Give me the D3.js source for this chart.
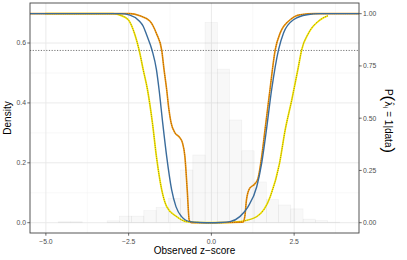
<!DOCTYPE html>
<html>
<head>
<meta charset="utf-8">
<script src="https://cdn.jsdelivr.net/npm/d3@7"></script>
<style>
  body { margin: 0; background: #fff; }
  svg { display: block; font-family: "Liberation Sans", Arial, sans-serif; }
</style>
</head>
<body>
<svg id="chart" width="407" height="260"></svg>
<script>
// histogram of observed z-scores (density scale), bin width 0.37
const binLeft = [-4.63, -4.26, -3.89, -3.52, -3.15, -2.78, -2.41, -2.04, -1.67, -1.30, -0.93, -0.56,
                 -0.19, 0.18, 0.55, 0.92, 1.29, 1.66, 2.03, 2.40, 2.77, 3.14, 3.51];
const binDensity = [0.003, 0.003, 0, 0, 0.006, 0.022, 0.022, 0.04, 0.051, 0.081, 0.176, 0.226,
                    0.669, 0.513, 0.343, 0.24, 0.136, 0.078, 0.059, 0.046, 0.012, 0.007, 0.002];
const binWidth = 0.37;

// posterior probability curves P(lambda_i = 1 | data)
const zYellow = [-5.03, -2.97, -2.76, -2.51, -2.31, -2.18, -2.06, -1.93, -1.78, -1.66, -1.5, -1.35, -1.05, -0.75, -0.35, 0,
                 0.56, 0.86, 1.37, 1.78, 2.06, 2.23, 2.43, 2.63, 2.73, 2.94, 3.29, 3.52];
const pYellow = [1, 1, 0.993, 0.971, 0.899, 0.824, 0.732, 0.636, 0.476, 0.316, 0.157, 0.077, 0.029, 0.005, 0.001, 0,
                 0.001, 0.005, 0.029, 0.125, 0.285, 0.444, 0.588, 0.747, 0.828, 0.908, 0.971, 0.99];

const zOrange = [-5.48, -2.46, -2.16, -1.86, -1.66, -1.5, -1.43, -1.35, -1.29, -1.22, -1.1, -0.97, -0.87, -0.8, -0.73, -0.67, -0.6, 0,
                 0.95, 1.01, 1.06, 1.16, 1.31, 1.41, 1.52, 1.62, 1.72, 1.77, 1.93, 2.08, 2.38, 2.68, 3.13, 4.46];
const pOrange = [1, 1, 0.99, 0.965, 0.905, 0.824, 0.732, 0.636, 0.55, 0.48, 0.43, 0.41, 0.38, 0.316, 0.157, 0.013, 0, 0,
                 0.002, 0.029, 0.109, 0.165, 0.185, 0.213, 0.316, 0.444, 0.572, 0.636, 0.828, 0.908, 0.971, 0.995, 1, 1];

const zBlue = [-5.48, -2.76, -2.46, -2.18, -2.06, -1.96, -1.79, -1.66, -1.58, -1.47, -1.35, -1.2, -1.07, -0.9, -0.65, -0.35, 0,
               0.26, 0.56, 0.86, 1.11, 1.37, 1.52, 1.65, 1.82, 2.03, 2.18, 2.48, 2.89, 3.28, 4.46];
const pBlue = [1, 1, 0.993, 0.965, 0.94, 0.9, 0.824, 0.732, 0.636, 0.476, 0.316, 0.157, 0.077, 0.029, 0.005, 0.001, 0,
               0.001, 0.005, 0.029, 0.077, 0.172, 0.285, 0.428, 0.636, 0.828, 0.908, 0.971, 0.995, 1, 1];

const threshold = 0.824;   // dotted reference probability
const maxDensity = 0.698;  // density that corresponds to probability 1

const xTicks = [-5, -2.5, 0, 2.5];
const xMinor = [-3.75, -1.25, 1.25, 3.75];
const yTicks = [0, 0.2, 0.4, 0.6];
const yMinor = [0.1, 0.3, 0.5];
const pTicks = [0, 0.25, 0.5, 0.75, 1];

const svg = d3.select("#chart");
const L = 30, R = 359, T = 3, B = 233;

const x = d3.scaleLinear().domain([-5.48, 4.46]).range([L, R]);
const y = d3.scaleLinear().domain([-0.0344, 0.7336]).range([B, T]);
const yp = d3.scaleLinear().domain([-0.0344 / maxDensity, 0.7336 / maxDensity]).range([B, T]);

// grid
const grid = svg.append("g");
grid.selectAll(".vminor").data(xMinor).enter().append("line")
  .attr("x1", d => x(d)).attr("x2", d => x(d)).attr("y1", T).attr("y2", B)
  .attr("stroke", "#f0f0f0").attr("stroke-width", 0.5);
grid.selectAll(".hminor").data(yMinor).enter().append("line")
  .attr("x1", L).attr("x2", R).attr("y1", d => y(d)).attr("y2", d => y(d))
  .attr("stroke", "#f0f0f0").attr("stroke-width", 0.5);
grid.selectAll(".vmajor").data(xTicks).enter().append("line")
  .attr("x1", d => x(d)).attr("x2", d => x(d)).attr("y1", T).attr("y2", B)
  .attr("stroke", "#e8e8e8").attr("stroke-width", 0.9);
grid.selectAll(".hmajor").data(yTicks).enter().append("line")
  .attr("x1", L).attr("x2", R).attr("y1", d => y(d)).attr("y2", d => y(d))
  .attr("stroke", "#e8e8e8").attr("stroke-width", 0.9);

// histogram
svg.append("g").selectAll("rect").data(binLeft).enter().append("rect")
  .attr("x", d => x(d))
  .attr("width", x(binWidth) - x(0))
  .attr("y", (d, i) => y(binDensity[i]))
  .attr("height", (d, i) => y(0) - y(binDensity[i]))
  .attr("fill", "rgba(128,128,128,0.06)")
  .attr("stroke", "rgba(128,128,128,0.12)")
  .attr("stroke-width", 0.5);

// dotted threshold
svg.append("line")
  .attr("x1", L).attr("x2", R).attr("y1", yp(threshold)).attr("y2", yp(threshold))
  .attr("stroke", "#777").attr("stroke-width", 1).attr("stroke-dasharray", "1.2,1.5");

const line = d3.line().x(d => x(d[0])).y(d => yp(d[1])).curve(d3.curveMonotoneX);
const pts = (zs, ps) => zs.map((z, i) => [z, ps[i]]);

// yellow with black dots
svg.append("path").datum(pts(zYellow, pYellow)).attr("d", line)
  .attr("fill", "none").attr("stroke", "#fbea00").attr("stroke-width", 1.7);
svg.append("path").datum(pts(zYellow, pYellow)).attr("d", line)
  .attr("fill", "none").attr("stroke", "#333").attr("stroke-width", 0.5).attr("stroke-dasharray", "1,1.2");

// orange with dark dots
svg.append("path").datum(pts(zOrange, pOrange)).attr("d", line)
  .attr("fill", "none").attr("stroke", "#e8940c").attr("stroke-width", 1.6);
svg.append("path").datum(pts(zOrange, pOrange)).attr("d", line)
  .attr("fill", "none").attr("stroke", "#8a3b00").attr("stroke-width", 0.55).attr("stroke-dasharray", "1,1.2");

// blue
svg.append("path").datum(pts(zBlue, pBlue)).attr("d", line)
  .attr("fill", "none").attr("stroke", "#3a6c9c").attr("stroke-width", 1.4);

// panel border
svg.append("rect").attr("x", L).attr("y", T).attr("width", R - L).attr("height", B - T)
  .attr("fill", "none").attr("stroke", "#444").attr("stroke-width", 0.9);

// axes
const tickCol = "#444", labCol = "#4d4d4d";
const xAxis = svg.append("g");
xAxis.selectAll("line").data(xTicks).enter().append("line")
  .attr("x1", d => x(d)).attr("x2", d => x(d)).attr("y1", B).attr("y2", B + 2.7)
  .attr("stroke", tickCol).attr("stroke-width", 0.8);
xAxis.selectAll("text").data(xTicks).enter().append("text")
  .attr("x", d => x(d)).attr("y", B + 10.5)
  .attr("text-anchor", "middle").attr("font-size", 6.8).attr("fill", labCol)
  .text(d => d3.format(".1f")(d).replace("-", "\u2212"));

const yAxis = svg.append("g");
yAxis.selectAll("line").data(yTicks).enter().append("line")
  .attr("x1", L - 2.7).attr("x2", L).attr("y1", d => y(d)).attr("y2", d => y(d))
  .attr("stroke", tickCol).attr("stroke-width", 0.8);
yAxis.selectAll("text").data(yTicks).enter().append("text")
  .attr("x", L - 4).attr("y", d => y(d) + 2.4)
  .attr("text-anchor", "end").attr("font-size", 6.8).attr("fill", labCol)
  .text(d => d3.format(".1f")(d));

const pAxis = svg.append("g");
pAxis.selectAll("line").data(pTicks).enter().append("line")
  .attr("x1", R).attr("x2", R + 2.7).attr("y1", d => yp(d)).attr("y2", d => yp(d))
  .attr("stroke", tickCol).attr("stroke-width", 0.8);
pAxis.selectAll("text").data(pTicks).enter().append("text")
  .attr("x", R + 4).attr("y", d => yp(d) + 2.4)
  .attr("text-anchor", "start").attr("font-size", 6.8).attr("fill", labCol)
  .text(d => d3.format(".2f")(d));

// titles
svg.append("text").attr("x", (L + R) / 2).attr("y", 254)
  .attr("text-anchor", "middle").attr("font-size", 10).attr("fill", "#000")
  .text("Observed z\u2212score");
svg.append("text").attr("transform", "translate(11," + ((T + B) / 2) + ") rotate(-90)")
  .attr("text-anchor", "middle").attr("font-size", 10).attr("fill", "#000")
  .text("Density");

const rt = svg.append("text").attr("transform", "translate(385," + ((T + B) / 2 + 3) + ") rotate(90)")
  .attr("text-anchor", "middle").attr("font-size", 10).attr("fill", "#000");
rt.append("tspan").text("P");
rt.append("tspan").attr("font-size", 17).attr("dy", 2).attr("font-weight", 300).text("(");
rt.append("tspan").attr("dy", -2).attr("font-family", "DejaVu Sans").attr("font-size", 9.5).text("\u03BB\u0302");
rt.append("tspan").attr("font-size", 7).attr("dy", 2).text("i");
rt.append("tspan").attr("dy", -2).text(" = 1|data");
rt.append("tspan").attr("font-size", 17).attr("dy", 2).text(")");
</script>
</body>
</html>
